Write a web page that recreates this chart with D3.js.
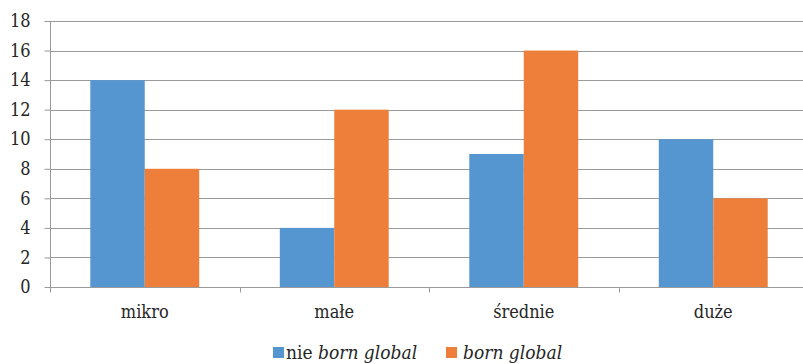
<!DOCTYPE html>
<html>
<head>
<meta charset="utf-8">
<script src="https://cdn.jsdelivr.net/npm/d3@7"></script>
<style>
  html, body { margin: 0; padding: 0; background: #ffffff; }
  svg { display: block; }
  svg text { font-stretch: condensed; }
</style>
</head>
<body>
<div id="chart"></div>
<script>
// Company size categories and the two series plotted per category
const categories = ["mikro", "małe", "średnie", "duże"];
const nieBornGlobal = [14, 4, 9, 10];
const bornGlobal = [8, 12, 16, 6];
const yTicks = [0, 2, 4, 6, 8, 10, 12, 14, 16, 18];
const seriesColors = ["#5596D1", "#EE7F3A"];

const W = 803, H = 364;
const margin = { left: 50, right: -5, top: 21, bottom: 77 };
const svg = d3.select("#chart").append("svg").attr("width", W).attr("height", H);

const x = d3.scaleBand().domain(categories)
  .range([margin.left, W - margin.right]).paddingInner(0).paddingOuter(0);
const x1 = d3.scaleBand().domain([0, 1]).range([0, x.bandwidth()])
  .paddingInner(0).paddingOuter(0.74);
const y = d3.scaleLinear().domain([0, 18]).range([H - margin.bottom, margin.top]);

const font = "DejaVu Serif Condensed, DejaVu Serif";
const fontSize = 18;
const legendSize = 19;
const gridColor = "#9a9a9a";
const textColor = "#262626";

// Horizontal gridlines
svg.append("g").selectAll("line").data(yTicks.filter(d => d > 0)).join("line")
  .attr("x1", margin.left).attr("x2", W)
  .attr("y1", d => Math.round(y(d)) + 0.5).attr("y2", d => Math.round(y(d)) + 0.5)
  .attr("stroke", gridColor).attr("stroke-width", 1);

// Bars
const data = categories.map((c, i) => ({ c, vals: [nieBornGlobal[i], bornGlobal[i]] }));
svg.append("g").selectAll("g").data(data).join("g")
  .attr("transform", d => `translate(${x(d.c)},0)`)
  .selectAll("rect").data(d => d.vals.map((v, k) => ({ v, k }))).join("rect")
  .attr("x", d => x1(d.k)).attr("width", x1.bandwidth())
  .attr("y", d => y(d.v)).attr("height", d => y(0) - y(d.v))
  .attr("fill", d => seriesColors[d.k]);

// Y axis
const yAxis = svg.append("g").attr("transform", `translate(${margin.left + 0.5},0)`)
  .call(d3.axisLeft(y).tickValues(yTicks).tickSize(6).tickPadding(14));
yAxis.attr("font-family", font).attr("font-size", fontSize);
yAxis.select(".domain").attr("stroke", gridColor).attr("d", `M0,${y(18)}V${y(0)}`);
yAxis.selectAll(".tick line").attr("stroke", gridColor);
yAxis.selectAll(".tick text").attr("fill", textColor);

// X axis with tick marks at category boundaries
const xAxisG = svg.append("g").attr("transform", `translate(0,${Math.round(y(0)) + 0.5})`)
  .attr("font-family", font).attr("font-size", fontSize);
xAxisG.append("line").attr("x1", margin.left).attr("x2", W).attr("stroke", gridColor);
const bounds = categories.map(c => x(c)).concat([x.range()[1]]);
xAxisG.selectAll("line.tk").data(bounds).join("line").attr("class", "tk")
  .attr("x1", d => Math.round(d) + 0.5).attr("x2", d => Math.round(d) + 0.5)
  .attr("y1", 0).attr("y2", 5).attr("stroke", gridColor);
xAxisG.selectAll("text").data(categories).join("text")
  .attr("x", d => x(d) + x.bandwidth() / 2).attr("y", 30)
  .attr("text-anchor", "middle").attr("fill", textColor).text(d => d);

// Legend
const legend = svg.append("g").attr("font-family", font).attr("font-size", legendSize).attr("fill", textColor);
const l1 = legend.append("g").attr("transform", "translate(273,353)");
l1.append("rect").attr("x", 0).attr("y", -6).attr("width", 11).attr("height", 11).attr("fill", seriesColors[0]);
const t1 = l1.append("text").attr("x", 13).attr("y", 6);
t1.append("tspan").text("nie ");
t1.append("tspan").attr("font-style", "italic").text("born global");
const l2 = legend.append("g").attr("transform", "translate(446,353)");
l2.append("rect").attr("x", 0).attr("y", -6).attr("width", 11).attr("height", 11).attr("fill", seriesColors[1]);
l2.append("text").attr("x", 17).attr("y", 6).attr("font-style", "italic").text("born global");
</script>
</body>
</html>
